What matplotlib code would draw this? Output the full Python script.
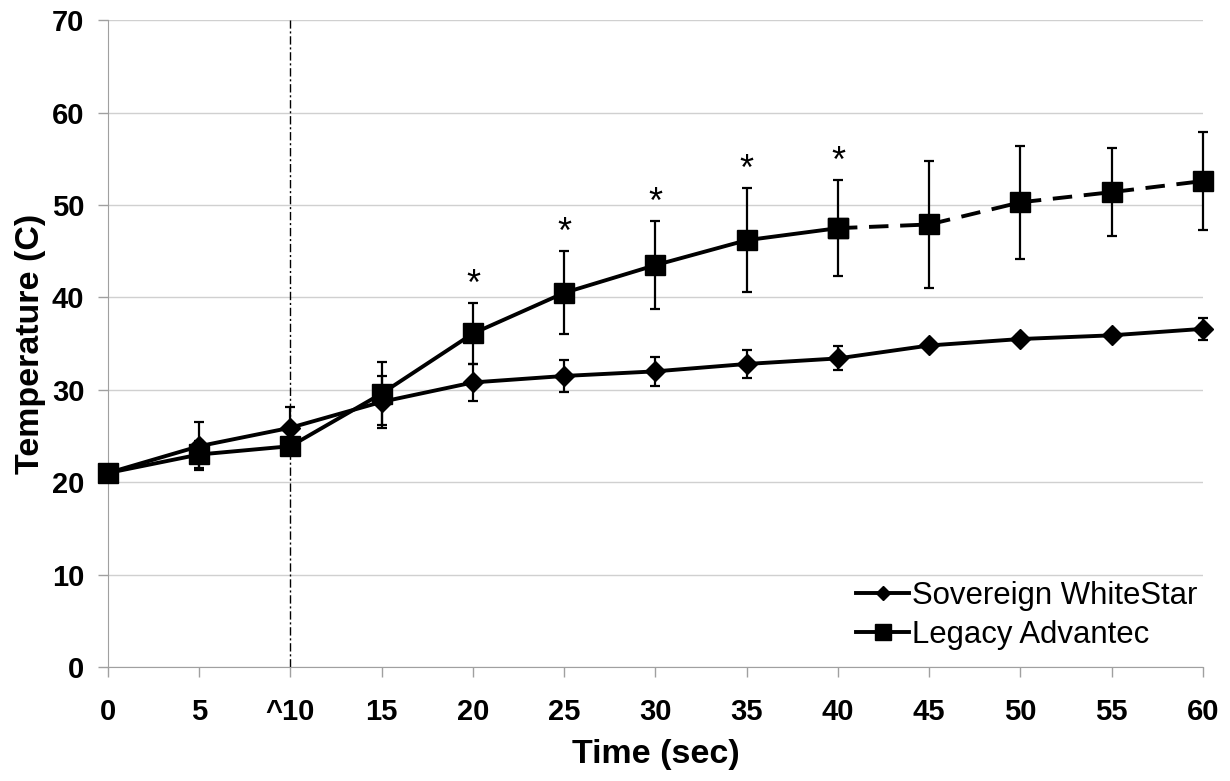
import matplotlib.pyplot as plt

# data
time = [0, 5, 10, 15, 20, 25, 30, 35, 40, 45, 50, 55, 60]
xlabels = ["0", "5", "^10", "15", "20", "25", "30", "35", "40", "45", "50", "55", "60"]

sov = [21.0, 23.9, 25.9, 28.7, 30.8, 31.5, 32.0, 32.8, 33.4, 34.8, 35.5, 35.9, 36.6]
sov_err = [0.3, 2.6, 2.2, 2.8, 2.0, 1.7, 1.6, 1.5, 1.3, 0.4, 0.4, 0.4, 1.2]

leg = [21.0, 23.0, 23.9, 29.6, 36.1, 40.5, 43.5, 46.2, 47.5, 47.9, 50.3, 51.4, 52.6]
leg_err = [0.4, 1.5, 0.5, 3.4, 3.3, 4.5, 4.8, 5.6, 5.2, 6.9, 6.1, 4.8, 5.3]

# significant points (marked with *)
signif = [20, 25, 30, 35, 40]

plt.rcParams['font.family'] = ['Liberation Sans', 'DejaVu Sans']

fig = plt.figure(figsize=(12.3, 7.81), dpi=100)
ax = fig.add_axes([0.0878, 0.146, 0.8902, 0.828])

# vertical marker line at 10 sec
ax.axvline(10, color='black', lw=1, ls=(0, (6, 2, 1.5, 2)), zorder=1)

# error bars
for y, e in [(sov, sov_err), (leg, leg_err)]:
    eb = ax.errorbar(time, y, yerr=e, fmt='none', ecolor='black', elinewidth=1.6,
                     capsize=3.8, capthick=1.6, zorder=2)
    for art in eb.get_children():
        art.set_clip_on(False)

# lines
ax.plot(time, sov, color='black', lw=2.8, marker='D', ms=10, zorder=3,
        label='Sovereign WhiteStar', clip_on=False)
n = time.index(40)
ax.plot(time[:n+1], leg[:n+1], color='black', lw=2.8, marker='s', ms=14.5, zorder=3,
        label='Legacy Advantec', clip_on=False)
ax.plot(time[n:], leg[n:], color='black', lw=2.8, ls=(0, (5, 3)), marker='s', ms=14.5,
        zorder=3, clip_on=False)

for t in signif:
    i = time.index(t)
    ax.text(t, leg[i] + leg_err[i] + 0.9, '*', ha='center', va='baseline', fontsize=26)

ax.set_xlim(0, 60)
ax.set_ylim(0, 70)
ax.set_xticks(time)
ax.set_xticklabels(xlabels)
ax.set_yticks(range(0, 71, 10))
ax.tick_params(axis='both', labelsize=21, color='#a0a0a0', length=7, width=1)
ax.tick_params(axis='x', pad=15)
ax.tick_params(axis='y', pad=10)
for lab in ax.get_xticklabels() + ax.get_yticklabels():
    lab.set_fontweight('bold')

ax.yaxis.grid(True, color='#d0d0d0', lw=1)
ax.set_axisbelow(True)
for s in ['top', 'right']:
    ax.spines[s].set_visible(False)
for s in ['left', 'bottom']:
    ax.spines[s].set_color('#a0a0a0')

ax.set_xlabel('Time (sec)', fontsize=24.5, fontweight='bold', labelpad=10)
ax.set_ylabel('Temperature (C)', fontsize=24.5, fontweight='bold', labelpad=4)

ax.legend(loc='lower right', bbox_to_anchor=(1.018, -0.012), frameon=False, fontsize=22.4,
          handlelength=1.7, handletextpad=0.1, labelspacing=0.3, borderaxespad=0.4,
          markerscale=0.75)

fig.savefig('out.png', dpi=100)
